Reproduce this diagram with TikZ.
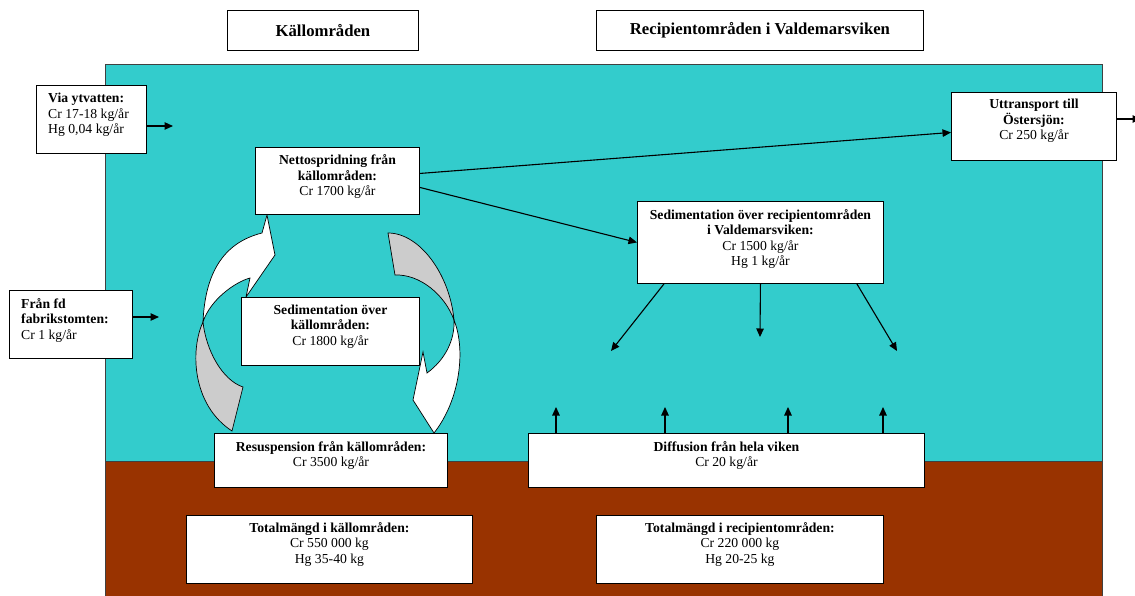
\documentclass[tikz,border=0pt]{standalone}
\usepackage{fontspec}
\setmainfont{Liberation Serif}
\usetikzlibrary{arrows.meta}
\definecolor{teal1}{HTML}{33CCCC}
\definecolor{brown1}{HTML}{993300}
\definecolor{gray1}{HTML}{CCCCCC}
\tikzset{
  boxst/.style={draw=black, line width=0.9pt, fill=white, inner sep=0pt, anchor=north west},
  txt/.style={font=\fontsize{13.7}{15.5}\selectfont, align=center, inner sep=0pt, anchor=base},
  ttl/.style={font=\fontsize{16.7}{19}\selectfont\bfseries},
  arr/.style={line width=1.1pt, -{Triangle[length=8.5pt,width=7.5pt]}},
  band/.style={draw=black, line width=0.7pt, line join=miter},
}
\begin{document}
\begin{tikzpicture}[x=1pt,y=-1pt]
\useasboundingbox (0,0) rectangle (1135,596);
% background regions
\fill[white] (0,0) rectangle (1135,596);
\draw[fill=teal1, draw=black!75, line width=0.9pt] (105,64) rectangle (1102,461);
\draw[fill=brown1, draw=black!75, line width=0.9pt] (105,461) rectangle (1102,602);

% curved arrows (left: up, right: down)
\draw[band, fill=gray1] (203,322) .. controls (190,350) and (192,405) .. (232,431) -- (243,387) .. controls (222,380) and (206,350) .. cycle;
\draw[band, fill=white] (203,322) .. controls (205,275) and (222,243) .. (262,233) -- (267,215) -- (275,255) -- (246,297) -- (250,278) .. controls (235,282) and (210,300) .. cycle;
\draw[band, fill=gray1] (388,233) .. controls (420,233) and (450,275) .. (454,320) .. controls (445,295) and (420,274) .. (395,275) -- cycle;
\draw[band, fill=white] (454,320) .. controls (466,350) and (460,400) .. (434,433) -- (413,400) -- (423,352) -- (427,373) .. controls (445,360) and (455,340) .. cycle;

% title boxes
\node[boxst, ttl, minimum width=191, minimum height=40] (kall) at (227,10) {Källområden};
\node[boxst, ttl, minimum width=327, minimum height=40] (recip) at (596,10) {Recipientområden i Valdemarsviken};

% boxes (text nodes: base = baseline of the last line)
\node[boxst, minimum width=110, minimum height=68] (via) at (36,85) {};
\node[txt, align=left, anchor=base west] (via-t) at ([xshift=12pt,yshift=-49pt]via.north west) {\textbf{Via ytvatten:}\\Cr 17-18 kg/år\\Hg 0,04 kg/år};

\node[boxst, minimum width=123, minimum height=68] (fran) at (9,290) {};
\node[txt, align=left, anchor=base west] (fran-t) at ([xshift=12pt,yshift=-49pt]fran.north west) {\textbf{Från fd}\\\textbf{fabrikstomten:}\\Cr 1 kg/år};

\node[boxst, minimum width=164, minimum height=67] (netto) at (255,147) {};
\node[txt] (netto-t) at ([yshift=-49pt]netto.north) {\textbf{Nettospridning från}\\\textbf{källområden:}\\Cr 1700 kg/år};

\node[boxst, minimum width=165, minimum height=68] (utt) at (951,92) {};
\node[txt] (utt-t) at ([yshift=-48pt]utt.north) {\textbf{Uttransport till}\\\textbf{Östersjön:}\\Cr 250 kg/år};

\node[boxst, minimum width=246, minimum height=82] (sedrec) at (637,201) {};
\node[txt] (sedrec-t) at ([yshift=-64.5pt]sedrec.north) {\textbf{Sedimentation över recipientområden}\\\textbf{i Valdemarsviken:}\\Cr 1500 kg/år\\Hg 1 kg/år};

\node[boxst, minimum width=178, minimum height=68] (sedkall) at (241,297) {};
\node[txt] (sedkall-t) at ([yshift=-48pt]sedkall.north) {\textbf{Sedimentation över}\\\textbf{källområden:}\\Cr 1800 kg/år};

\node[boxst, minimum width=233, minimum height=54] (resusp) at (214,433) {};
\node[txt] (resusp-t) at ([yshift=-33.5pt]resusp.north) {\textbf{Resuspension från källområden:}\\Cr 3500 kg/år};

\node[boxst, minimum width=396, minimum height=54] (diff) at (528,433) {};
\node[txt] (diff-t) at ([yshift=-33.5pt]diff.north) {\textbf{Diffusion från hela viken}\\Cr 20 kg/år};

\node[boxst, minimum width=286, minimum height=68] (totk) at (186,515) {};
\node[txt] (totk-t) at ([yshift=-48pt]totk.north) {\textbf{Totalmängd i källområden:}\\Cr 550 000 kg\\Hg 35-40 kg};

\node[boxst, minimum width=287, minimum height=68] (totr) at (596,515) {};
\node[txt] (totr-t) at ([yshift=-48pt]totr.north) {\textbf{Totalmängd i recipientområden:}\\Cr 220 000 kg\\Hg 20-25 kg};

% free ends
\coordinate (viaend) at (173,126);
\coordinate (franend) at (159,317);
\coordinate (uttend) at (1141,119);
\coordinate (s1) at (611,351);
\coordinate (s2) at (760,337);
\coordinate (s3) at (897,351);
\coordinate (d1) at (556,407);
\coordinate (d2) at (665,407);
\coordinate (d3) at (788,407);
\coordinate (d4) at (883,407);

% connectors
\draw[arr] (via.east |- viaend) -- (viaend);
\draw[arr] (fran.east |- franend) -- (franend);
\draw[arr] ([yshift=7.5pt]netto.east) -- ([yshift=-6pt]utt.west);
\draw[arr] ([yshift=-6.5pt]netto.east) -- (sedrec.west);
\draw[arr] (utt.east |- uttend) -- (uttend);
\draw[arr] ([xshift=27pt]sedrec.south west) -- (s1);
\draw[arr] (sedrec.south) -- (s2);
\draw[arr] ([xshift=-27pt]sedrec.south east) -- (s3);
\draw[arr] (diff.north -| d1) -- (d1);
\draw[arr] (diff.north -| d2) -- (d2);
\draw[arr] (diff.north -| d3) -- (d3);
\draw[arr] (diff.north -| d4) -- (d4);
\end{tikzpicture}
\end{document}
